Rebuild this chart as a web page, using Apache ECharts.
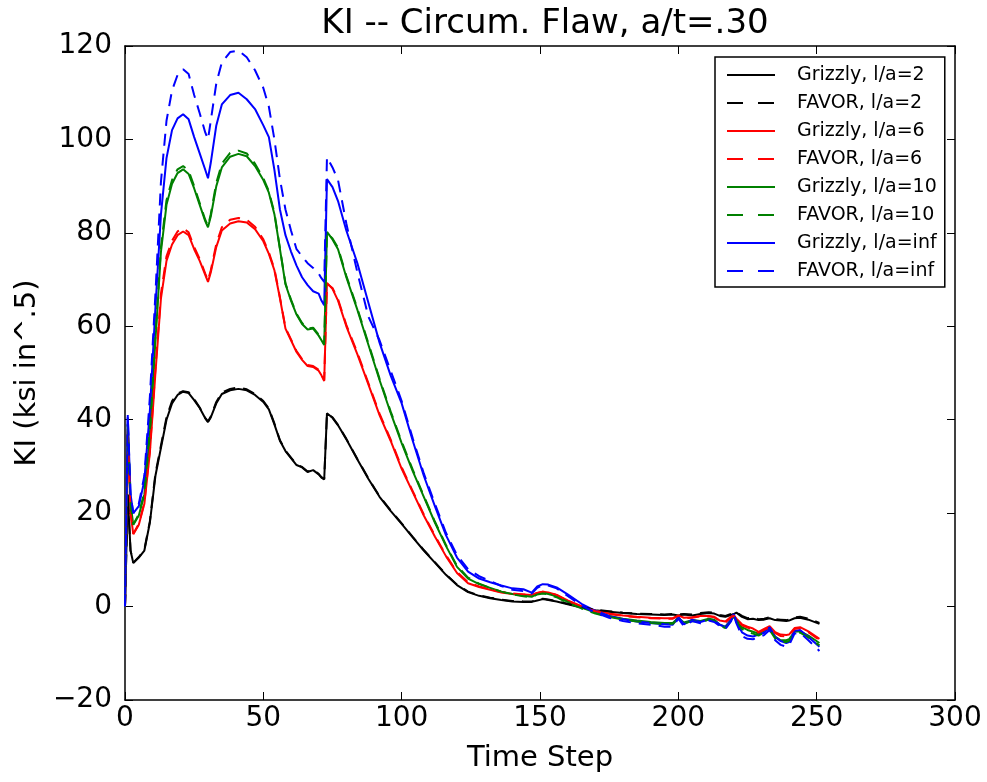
<!DOCTYPE html>
<html>
<head>
<meta charset="utf-8">
<script src="https://cdn.jsdelivr.net/npm/echarts@6/dist/echarts.min.js"></script>
<style>
  html, body { margin: 0; padding: 0; background: #fff; }
  #chart { width: 987px; height: 782px; }
</style>
</head>
<body>
<div id="chart"></div>
<script>
// time steps
const T = [0,1,2,3,5,7,9,11,13,15,17,19,21,23,25,27,29,30,31,33,35,38,41,44,47,50,52,54,56,58,60,62,64,66,68,70,71,72,73,75,77,80,84,88,92,96,100,104,108,112,116,120,124,128,132,136,140,144,147,149,151,153,156,160,165,170,175,180,185,190,195,198,200,202,205,208,211,213,215,217,219,220,221,223,225,227,229,231,233,235,237,239,240,242,244,247,251]

const grizzly2 = [0,24,12,9.3,10.5,12,18,28,34,40,43.5,45.3,46,45.7,44.2,42.5,40.3,39.5,40.5,43.5,45.5,46.3,46.6,46.3,45.3,43.8,42.2,39,35.5,33.3,31.8,30.3,29.8,28.8,29.2,28.3,27.6,27.2,41.4,40.4,38.8,35.8,31.5,27.3,23.5,20.5,17.7,14.8,12,9.4,6.8,4.6,3.1,2.3,1.8,1.4,1.1,1.0,1.0,1.3,1.6,1.4,1.1,0.5,-0.2,-0.8,-1.1,-1.4,-1.6,-1.7,-1.8,-1.7,-1.9,-1.7,-1.9,-1.6,-1.4,-1.5,-2.0,-2.2,-1.8,-1.6,-1.3,-2.2,-2.7,-2.6,-2.9,-2.8,-2.5,-2.9,-3.0,-3.1,-3.0,-2.5,-2.4,-2.8,-3.7]
const favor2   = [0,24,12,9.4,10.6,12.2,18.3,28.5,34.5,40.5,44,45.6,46.1,45.9,44.4,42.6,40.4,39.6,40.7,43.8,45.8,46.6,46.9,46.5,45.5,44,42.4,39.2,35.6,33.4,31.9,30.4,29.9,28.9,29.3,28.4,27.7,27.3,41.3,40.5,38.9,35.9,31.6,27.4,23.6,20.6,17.8,14.9,12.1,9.5,6.9,4.7,3.2,2.4,1.9,1.5,1.2,1.1,1.1,1.4,1.7,1.5,1.2,0.6,-0.1,-0.7,-1.0,-1.3,-1.5,-1.6,-1.7,-1.6,-1.7,-1.6,-1.7,-1.4,-1.2,-1.3,-1.8,-2.0,-1.6,-1.4,-1.2,-2.0,-2.5,-2.4,-2.7,-2.6,-2.3,-2.7,-2.8,-2.9,-2.8,-2.3,-2.2,-2.6,-3.5]
const grizzly6 = [0,38,20,15.5,17.5,22,33,50,66,74,77.5,79.5,80.3,79.5,76.5,74,71,69.5,71.5,77,80.5,82,82.5,82.2,80.8,78.2,75.5,72,66,59.5,57,54.5,52.8,51.5,51.3,50.5,49.5,48.3,69.3,68,65.5,60,54,47.5,41,35.5,29.5,24.5,19.5,15,10.8,7.2,5,4.2,3.6,3.0,2.7,2.6,2.5,2.9,3.2,3.0,2.5,1.3,0.1,-0.9,-1.5,-1.9,-2.2,-2.4,-2.5,-2.5,-1.9,-2.4,-2.3,-2.0,-2.0,-2.2,-3.0,-3.2,-2.2,-1.8,-2.6,-3.8,-4.3,-4.7,-5.4,-4.8,-4.2,-5.5,-6.0,-6.1,-6.0,-4.6,-4.4,-5.3,-6.9]
const favor6   = [0,38,20,15.6,17.7,22.3,33.5,51,67,75,78.3,80.3,81,80.1,77,74.4,71.3,69.8,72,77.6,81.2,82.8,83.2,82.8,81.3,78.6,75.8,72.3,66.2,59.7,57.2,54.7,53,51.7,51.5,50.7,49.7,48.5,69.1,68.2,65.8,60.3,54.3,47.8,41.3,35.8,29.8,24.7,19.7,15.2,11,7.4,5.2,4.3,3.7,3.1,2.8,2.6,2.5,2.9,3.2,3.0,2.5,1.2,0,-1.0,-1.6,-2.0,-2.3,-2.5,-2.6,-2.6,-2.0,-2.5,-2.4,-2.1,-2.1,-2.3,-3.1,-3.4,-2.4,-1.9,-2.8,-4.0,-4.5,-4.9,-5.6,-5.0,-4.4,-5.7,-6.3,-6.4,-6.2,-4.8,-4.6,-5.5,-7.2]
const grizzly10 = [0,39,22,17.5,19.5,24,37,57,76,86,90.5,92.8,93.6,92.6,89.5,86,82.5,81.2,83.5,90,94,96.3,96.9,96.4,94.3,91.3,88.6,84,76.5,69,65.5,62.5,60.5,59.3,59.5,58,57,56,80.2,78.6,76.5,70.5,63.5,56,48.5,41.5,35,29,23.5,18,13,8.5,6,4.8,4.0,3.2,2.7,2.3,2.1,2.7,2.9,2.7,2.2,1.0,-0.2,-1.3,-2.0,-2.6,-3.0,-3.3,-3.5,-3.5,-2.4,-3.4,-2.9,-3.1,-2.6,-2.8,-3.9,-4.3,-2.9,-2.2,-3.0,-4.4,-5.0,-5.4,-5.8,-5.2,-4.7,-6.4,-7.2,-7.2,-7.0,-5.4,-5.3,-6.2,-7.8]
const favor10   = [0,39,22,17.6,19.8,24.5,38,58,77,87,91.3,93.6,94.3,93.3,90,86.4,82.8,81.5,84,90.7,94.8,97.1,97.6,97,94.8,91.7,88.9,84.3,76.7,69.2,65.7,62.7,60.7,59.5,59.7,58.2,57.2,56.2,80,78.8,76.8,70.8,63.8,56.3,48.8,41.8,35.3,29.3,23.7,18.2,13.2,8.7,6.2,4.9,4.0,3.2,2.6,2.2,2.0,2.6,2.8,2.6,2.0,0.8,-0.4,-1.5,-2.2,-2.8,-3.2,-3.5,-3.7,-3.7,-2.6,-3.6,-3.1,-3.3,-2.8,-3.0,-4.1,-4.6,-3.1,-2.4,-3.3,-4.8,-5.4,-5.8,-6.2,-5.5,-5.0,-6.8,-7.6,-7.6,-7.4,-5.7,-5.6,-6.6,-8.3]
const grizzlyInf = [0,40.5,24,20,21.5,27,42,64,84,96,102,104.5,105.4,104.3,100.5,97,93.5,91.7,95,103,107.5,109.5,110,108.6,106.5,103,100.5,93.5,85,79.5,76,73,70.5,68.8,67.5,67,65.5,64.5,91.5,89.8,86.8,80.5,73.5,65,56.5,49.5,43.5,35.5,28,21.5,15.3,10.5,7.5,6.0,5.2,4.5,3.9,3.7,3.0,4.3,4.8,4.7,4.1,2.6,0.6,-0.9,-2.0,-2.7,-3.2,-3.5,-3.8,-3.9,-2.2,-3.8,-2.8,-3.3,-2.8,-3.0,-3.9,-4.4,-2.8,-1.6,-3.2,-5.5,-6.2,-6.4,-6.0,-5.6,-4.4,-6.5,-7.4,-7.8,-7.6,-5.2,-5.0,-6.5,-8.6]
const favorInf   = [0,41,24,20,22,28,45,67,91,104,110.5,113.8,115,114,109.5,105.6,101.5,100,104,112,116.5,118.7,119,117.6,114.8,111,107,100,91.5,85,80.5,76.5,75,73.5,72.5,71.3,70.3,69.5,96.2,94,91.3,82,71.5,62,57,50.5,44,36,28.5,22,15.8,11,8,6.5,5.5,4.4,3.6,3.3,2.8,4.0,4.6,4.5,3.9,2.3,0.2,-1.3,-2.4,-3.1,-3.6,-3.9,-4.3,-4.3,-2.6,-4.2,-3.1,-3.6,-3.0,-3.3,-4.2,-4.8,-3.2,-1.8,-3.6,-6.3,-6.9,-7.0,-6.6,-6.1,-5.0,-7.2,-8.2,-8.6,-8.3,-5.8,-5.6,-7.2,-9.5]

const names  = ['Grizzly, l/a=2','FAVOR, l/a=2','Grizzly, l/a=6','FAVOR, l/a=6','Grizzly, l/a=10','FAVOR, l/a=10','Grizzly, l/a=inf','FAVOR, l/a=inf']
const values = [grizzly2, favor2, grizzly6, favor6, grizzly10, favor10, grizzlyInf, favorInf]
const colors = ['#000000','#000000','#ff0000','#ff0000','#008000','#008000','#0000ff','#0000ff']

const FONT = 'DejaVu Sans'
const minus = v => String(v).replace('-', '\u2212')
// legend glyphs: plain bar for Grizzly, two dashes for FAVOR
const solidIcon  = 'path://M0 0H48V2H0Z'
const dashedIcon = 'path://M0 0H16V2H0Z M31 0H47V2H31Z M47.9 0H48V0.1H47.9Z'

const chart = echarts.init(document.getElementById('chart'), null, { renderer: 'canvas' })

const axisBase = {
  axisLine: { show: true, onZero: false, lineStyle: { color: '#000', width: 1.5 } },
  axisTick: { show: true, inside: true, length: 8, lineStyle: { color: '#000', width: 1 } },
  splitLine: { show: false }
}

chart.setOption({
  animation: false,
  backgroundColor: '#fff',
  title: {
    text: 'KI -- Circum. Flaw, a/t=.30',
    left: 540, top: 2, textAlign: 'center',
    textStyle: { fontFamily: FONT, fontSize: 34, fontWeight: 'normal', color: '#000' }
  },
  grid: { left: 125, right: 32, top: 46, bottom: 82 },
  legend: {
    orient: 'vertical', left: 715, top: 57,
    padding: [7, 8, 5, 12],
    itemWidth: 48, itemHeight: 2, itemGap: 6,
    borderColor: '#000', borderWidth: 1.5, backgroundColor: '#fff',
    textStyle: { fontFamily: FONT, fontSize: 19, color: '#000', lineHeight: 22, padding: [0, 0, 0, 17] },
    data: names.map((n, i) => ({ name: n, icon: i % 2 ? dashedIcon : solidIcon }))
  },
  xAxis: [
    Object.assign({}, axisBase, {
      type: 'value', min: 0, max: 300, interval: 50,
      name: 'Time Step', nameLocation: 'middle', nameGap: 44,
      nameTextStyle: { fontFamily: FONT, fontSize: 29, color: '#000' },
      axisLabel: { fontFamily: FONT, fontSize: 28, color: '#000', margin: 5 }
    }),
    Object.assign({}, axisBase, {
      type: 'value', min: 0, max: 300, interval: 50, position: 'top',
      axisLabel: { show: false }
    })
  ],
  yAxis: [
    Object.assign({}, axisBase, {
      type: 'value', min: -20, max: 120, interval: 20,
      name: 'KI (ksi in^.5)', nameLocation: 'middle', nameGap: 81,
      nameTextStyle: { fontFamily: FONT, fontSize: 29, color: '#000' },
      axisLabel: { fontFamily: FONT, fontSize: 28, color: '#000', margin: 13, formatter: minus }
    }),
    Object.assign({}, axisBase, {
      type: 'value', min: -20, max: 120, interval: 20, position: 'right',
      axisLabel: { show: false }
    })
  ],
  series: names.map((name, i) => ({
    name,
    type: 'line',
    xAxisIndex: 0, yAxisIndex: 0,
    data: T.map((t, k) => [t, values[i][k]]),
    symbol: 'none',
    z: i % 2 ? 3 : 2,
    itemStyle: { color: colors[i] },
    lineStyle: { color: colors[i], width: 2, type: i % 2 ? [12, 8] : 'solid' }
  }))
})
</script>
</body>
</html>
